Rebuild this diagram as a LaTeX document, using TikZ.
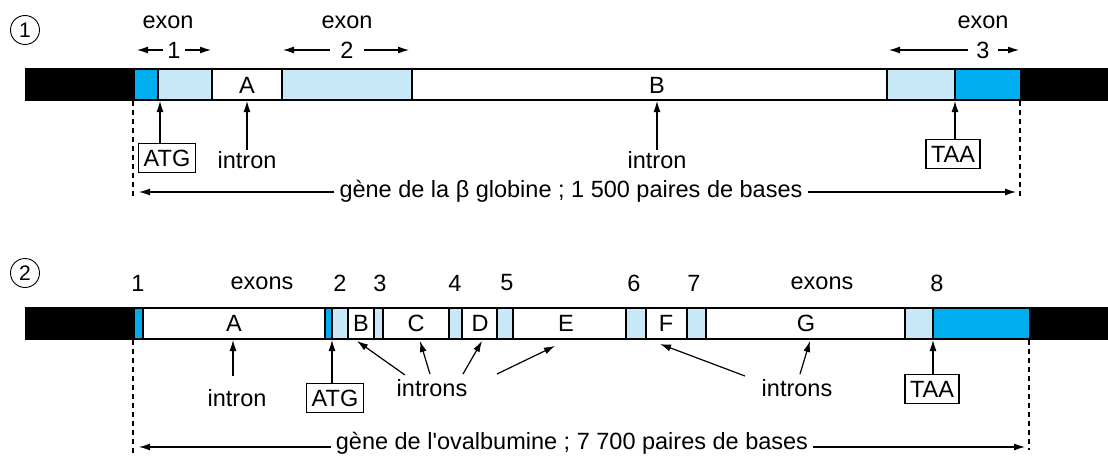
\documentclass[tikz,border=0pt]{standalone}
\usepackage{fontspec}
\setmainfont{Liberation Sans}[Ligatures=TeXOff]
\usetikzlibrary{arrows.meta}
\definecolor{dkb}{HTML}{00AEEF}
\definecolor{ltb}{HTML}{C8E8F8}
\begin{document}
\begin{tikzpicture}[x=1pt,y=-1pt,
  lbl/.style={font=\fontsize{23.5}{26}\selectfont, inner sep=1pt},
  arr/.style={-{Latex[length=11pt,width=7pt]}, line width=1.2pt},
  boxed/.style={lbl, draw, line width=1.1pt, inner xsep=5pt, inner ysep=6pt},
  sep/.style={line width=1.7pt},
  rim/.style={line width=2.8pt},
  dimline/.style={dash pattern=on 5pt off 4pt, line width=2.5pt},
  circ/.style={circle, draw, line width=0.9pt, minimum size=29pt, inner sep=0pt, font=\fontsize{21}{24}\selectfont}
]
\useasboundingbox (0,0) rectangle (1108,455);

% ================= (1) beta globin =================
\node[circ] (c1) at (25,30) {1};

% bar
\fill (25,69) rectangle (135,100);
\fill[dkb] (135,69) rectangle (158,100);
\fill[ltb] (158,69) rectangle (212,100);
\fill[ltb] (282,69) rectangle (412,100);
\fill[ltb] (887,69) rectangle (955,100);
\fill[dkb] (955,69) rectangle (1020,100);
\fill (1020,69) rectangle (1108,100);
\foreach \x in {158,212,282,412,887,955} \draw[sep] (\x,69) -- (\x,100);
\draw[rim] (25,69) -- (1108,69);
\draw[rim] (25,100) -- (1108,100);
\node[lbl] (A1) at (247,85) {A};
\node[lbl] (B1) at (657,85) {B};

% exon labels
\node[lbl] (ex1) at (168,22) {exon};
\node[lbl, inner xsep=4pt] (n1) at (174,50) {1};
\coordinate (n1l) at (137,50); \coordinate (n1r) at (211,50);
\draw[arr] (n1.west) -- (n1l); \draw[arr] (n1.east) -- (n1r);

\node[lbl] (ex2) at (347,22) {exon};
\node[lbl, inner xsep=10pt] (n2) at (347,50) {2};
\coordinate (n2l) at (283,50); \coordinate (n2r) at (409,50);
\draw[arr] (n2.west) -- (n2l); \draw[arr] (n2.east) -- (n2r);

\node[lbl] (ex3) at (983,22) {exon};
\node[lbl, inner xsep=8pt] (n3) at (983,50) {3};
\coordinate (n3l) at (889,50); \coordinate (n3r) at (1019,50);
\draw[arr] (n3.west) -- (n3l); \draw[arr] (n3.east) -- (n3r);

% markers below
\node[boxed] (atg1) at (167,158) {ATG};
\coordinate (t1) at (160,101);
\draw[arr] (atg1.north -| t1) -- (t1);

\node[lbl] (in1) at (247,160) {intron};
\coordinate (t2) at (247,101);
\draw[arr] (in1.north -| t2) -- (t2);

\node[lbl] (in2) at (657,160) {intron};
\coordinate (t3) at (657,101);
\draw[arr] (in2.north -| t3) -- (t3);

\node[boxed] (taa1) at (953,154) {TAA};
\coordinate (t4) at (955,101);
\draw[arr] (taa1.north -| t4) -- (t4);

% extent
\coordinate (dl1a) at (133,101); \coordinate (dl1b) at (133,197);
\coordinate (dr1a) at (1020,101); \coordinate (dr1b) at (1020,197);
\draw[dimline] (dl1a) -- (dl1b);
\draw[dimline] (dr1a) -- (dr1b);
\node[lbl, inner xsep=5pt] (g1) at (571,191) {gène de la β globine ; 1 500 paires de bases};
\coordinate (g1l) at (139,192); \coordinate (g1r) at (1016,192);
\draw[arr] (g1.west |- g1l) -- (g1l); \draw[arr] (g1.east |- g1r) -- (g1r);

% ================= (2) ovalbumin =================
\node[circ] (c2) at (25,273) {2};

\node[lbl] (m1) at (138,283) {1};
\node[lbl] (exs1) at (262,283) {exons};
\node[lbl] (m2) at (340,283) {2};
\node[lbl] (m3) at (380,283) {3};
\node[lbl] (m4) at (455,283) {4};
\node[lbl] (m5) at (507,283) {5};
\node[lbl] (m6) at (634,283) {6};
\node[lbl] (m7) at (694,283) {7};
\node[lbl] (exs2) at (822,283) {exons};
\node[lbl] (m8) at (937,283) {8};

% bar
\fill (25,308) rectangle (135,339);
\fill[dkb] (135,308) rectangle (143,339);
\fill[dkb] (325,308) rectangle (332,339);
\fill[ltb] (332,308) rectangle (348,339);
\fill[ltb] (374,308) rectangle (383,339);
\fill[ltb] (449,308) rectangle (462,339);
\fill[ltb] (497,308) rectangle (513,339);
\fill[ltb] (626,308) rectangle (646,339);
\fill[ltb] (687,308) rectangle (706,339);
\fill[ltb] (905,308) rectangle (933,339);
\fill[dkb] (933,308) rectangle (1029,339);
\fill (1029,308) rectangle (1108,339);
\foreach \x in {143,325,332,348,374,383,449,462,497,513,626,646,687,706,905,933}
  \draw[sep] (\x,308) -- (\x,339);
\draw[rim] (25,308) -- (1108,308);
\draw[rim] (25,339) -- (1108,339);
\node[lbl] (A2) at (234,323) {A};
\node[lbl] (B2) at (361,323) {B};
\node[lbl] (C2) at (416,323) {C};
\node[lbl] (D2) at (480,323) {D};
\node[lbl] (E2) at (566,323) {E};
\node[lbl] (F2) at (666,323) {F};
\node[lbl] (G2) at (806,323) {G};

% markers below
\node[lbl] (in3) at (237,398) {intron};
\coordinate (u1a) at (233,376); \coordinate (u1) at (233,340);
\draw[arr] (u1a) -- (u1);

\node[boxed] (atg2) at (335,398) {ATG};
\coordinate (u2) at (332,340);
\draw[arr] (atg2.north -| u2) -- (u2);

\node[lbl] (ins1) at (432,388) {introns};
\coordinate (pB) at (357,341); \coordinate (sB) at (405,375);
\coordinate (pC) at (420,341); \coordinate (sC) at (430,374);
\coordinate (pD) at (482,341); \coordinate (sD) at (463,374);
\coordinate (pE) at (555,346); \coordinate (sE) at (497,374);
\draw[arr] (sB) -- (pB);
\draw[arr] (sC) -- (pC);
\draw[arr] (sD) -- (pD);
\draw[arr] (sE) -- (pE);

\node[lbl] (ins2) at (797,388) {introns};
\coordinate (pF) at (660,344); \coordinate (sF) at (745,376);
\coordinate (pG) at (810,341); \coordinate (sG) at (800,374);
\draw[arr] (sF) -- (pF);
\draw[arr] (sG) -- (pG);

\node[boxed] (taa2) at (932,389) {TAA};
\coordinate (u3) at (933,340);
\draw[arr] (taa2.north -| u3) -- (u3);

% extent
\coordinate (dl2a) at (133,340); \coordinate (dl2b) at (133,455);
\coordinate (dr2a) at (1029,340); \coordinate (dr2b) at (1029,450);
\draw[dimline] (dl2a) -- (dl2b);
\draw[dimline] (dr2a) -- (dr2b);
\node[lbl, inner xsep=5pt] (g2) at (572,443) {gène de l'ovalbumine ; 7 700 paires de bases};
\coordinate (g2l) at (139,447); \coordinate (g2r) at (1025,447);
\draw[arr] (g2.west |- g2l) -- (g2l); \draw[arr] (g2.east |- g2r) -- (g2r);
\end{tikzpicture}
\end{document}
